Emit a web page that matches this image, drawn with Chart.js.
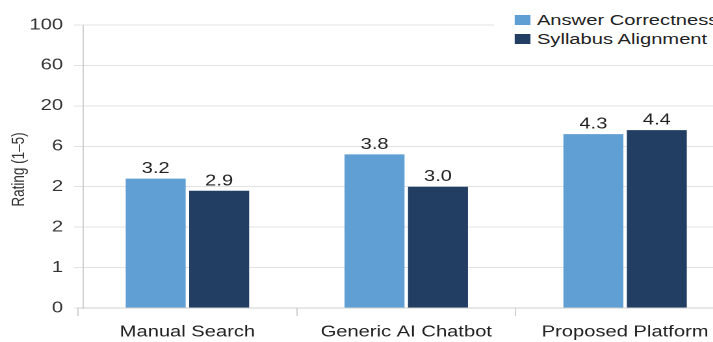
<!DOCTYPE html>
<html>
<head>
<meta charset="utf-8">
<script src="https://cdn.jsdelivr.net/npm/chart.js@4.4.1/dist/chart.umd.min.js"></script>
<style>
  html, body { margin: 0; padding: 0; background: #fff; overflow: hidden; width: 713px; height: 342px; }
  /* the chart is laid out narrow and widened as a whole */
  #wrap { position: relative; width: 566px; height: 342px; transform: scaleX(1.3); transform-origin: 0 0; }
  #legend {
    position: absolute; left: 380px; top: 9px; background: #fff;
    font-family: 'Liberation Sans', Arial, sans-serif; font-size: 15.5px; color: #222;
    padding: 1px 0 1px 16px; white-space: nowrap; line-height: 19px;
  }
  #legend span.box { display: inline-block; width: 12px; height: 10px; margin-right: 5px; vertical-align: 0px; }
</style>
</head>
<body>
<div id="wrap">
  <canvas id="myChart" width="566" height="342"></canvas>
  <div id="legend"></div>
</div>
<script>
'use strict';

const categories = ['Manual Search', 'Generic AI Chatbot', 'Proposed Platform'];
const seriesNames = ['Answer Correctness', 'Syllabus Alignment'];
const answerCorrectness = [3.2, 3.8, 4.3];
const syllabusAlignment = [2.9, 3.0, 4.4];
const tickLabels = ['0', '1', '2', '2', '6', '20', '60', '100'];
const yTitle = 'Rating (1–5)';

const color = ['#609fd3', '#223e63'];
const fontFamily = "'Liberation Sans', Arial, sans-serif";

insertLegend();
function insertLegend() {
  const legend = document.querySelector('#legend');
  legend.innerHTML = seriesNames
    .map((name, i) => `<div><span class="box" style="background:${color[i]}"></span>${name}</div>`)
    .join('');
}

// vertical axis line sits a little inside the category band
const axisLine = {
  id: 'axisLine',
  beforeDatasetsDraw(chart) {
    const ctx = chart.ctx;
    const area = chart.chartArea;
    const x = area.left + 4;
    ctx.save();
    ctx.strokeStyle = '#cfcfcf';
    ctx.lineWidth = 1;
    ctx.beginPath();
    ctx.moveTo(x, area.top);
    ctx.lineTo(x, area.bottom + 1);
    ctx.stroke();
    ctx.restore();
  },
};

// value labels above each bar, taken from the dataset values, plus the y title
const barValues = {
  id: 'barValues',
  afterDatasetsDraw(chart) {
    const ctx = chart.ctx;
    ctx.save();
    ctx.font = `15.5px ${fontFamily}`;
    ctx.fillStyle = '#222';
    ctx.textAlign = 'center';
    ctx.textBaseline = 'bottom';
    chart.data.datasets.forEach((ds, di) => {
      chart.getDatasetMeta(di).data.forEach((bar, i) => {
        ctx.fillText(ds.data[i].toFixed(1), bar.x, bar.y - 2);
      });
    });
    ctx.restore();
  },
  afterDraw(chart) {
    const ctx = chart.ctx;
    const area = chart.chartArea;
    ctx.save();
    ctx.font = `13.5px ${fontFamily}`;
    ctx.fillStyle = '#333';
    ctx.textAlign = 'center';
    ctx.textBaseline = 'middle';
    ctx.translate(15, (area.top + area.bottom) / 2 + 3);
    ctx.rotate(-Math.PI / 2);
    ctx.fillText(yTitle, 0, 0);
    ctx.restore();
  },
};

barChart();
function barChart() {
  const data = {
    labels: categories,
    datasets: [
      { label: seriesNames[0], data: answerCorrectness, backgroundColor: color[0] },
      { label: seriesNames[1], data: syllabusAlignment, backgroundColor: color[1] },
    ],
  };
  const config = {
    type: 'bar',
    data,
    plugins: [axisLine, barValues],
    options: {
      responsive: false,
      animation: false,
      devicePixelRatio: 2,
      layout: { padding: { top: 25, right: 1, bottom: 0, left: 0 } },
      datasets: {
        bar: { categoryPercentage: 0.58, barPercentage: 0.945 },
      },
      plugins: {
        legend: { display: false },
        tooltip: { enabled: false },
      },
      scales: {
        x: {
          afterFit(scale) { scale.height = 34; },
          grid: { drawOnChartArea: false, tickLength: 8, color: '#cfcfcf' },
          border: { color: '#cfcfcf' },
          ticks: { padding: 7, color: '#222', font: { family: fontFamily, size: 15.5 } },
        },
        y: {
          min: 0,
          max: 7,
          afterFit(scale) { scale.width = 60; },
          grid: { tickLength: 3, color: '#e2e2e2' },
          border: { display: false },
          ticks: {
            stepSize: 1,
            padding: 8.5,
            color: '#333',
            font: { family: fontFamily, size: 15.5 },
            callback: (value, index) => tickLabels[index],
          },
        },
      },
    },
  };
  const myChart = new Chart(document.getElementById('myChart'), config);
}
</script>
</body>
</html>
